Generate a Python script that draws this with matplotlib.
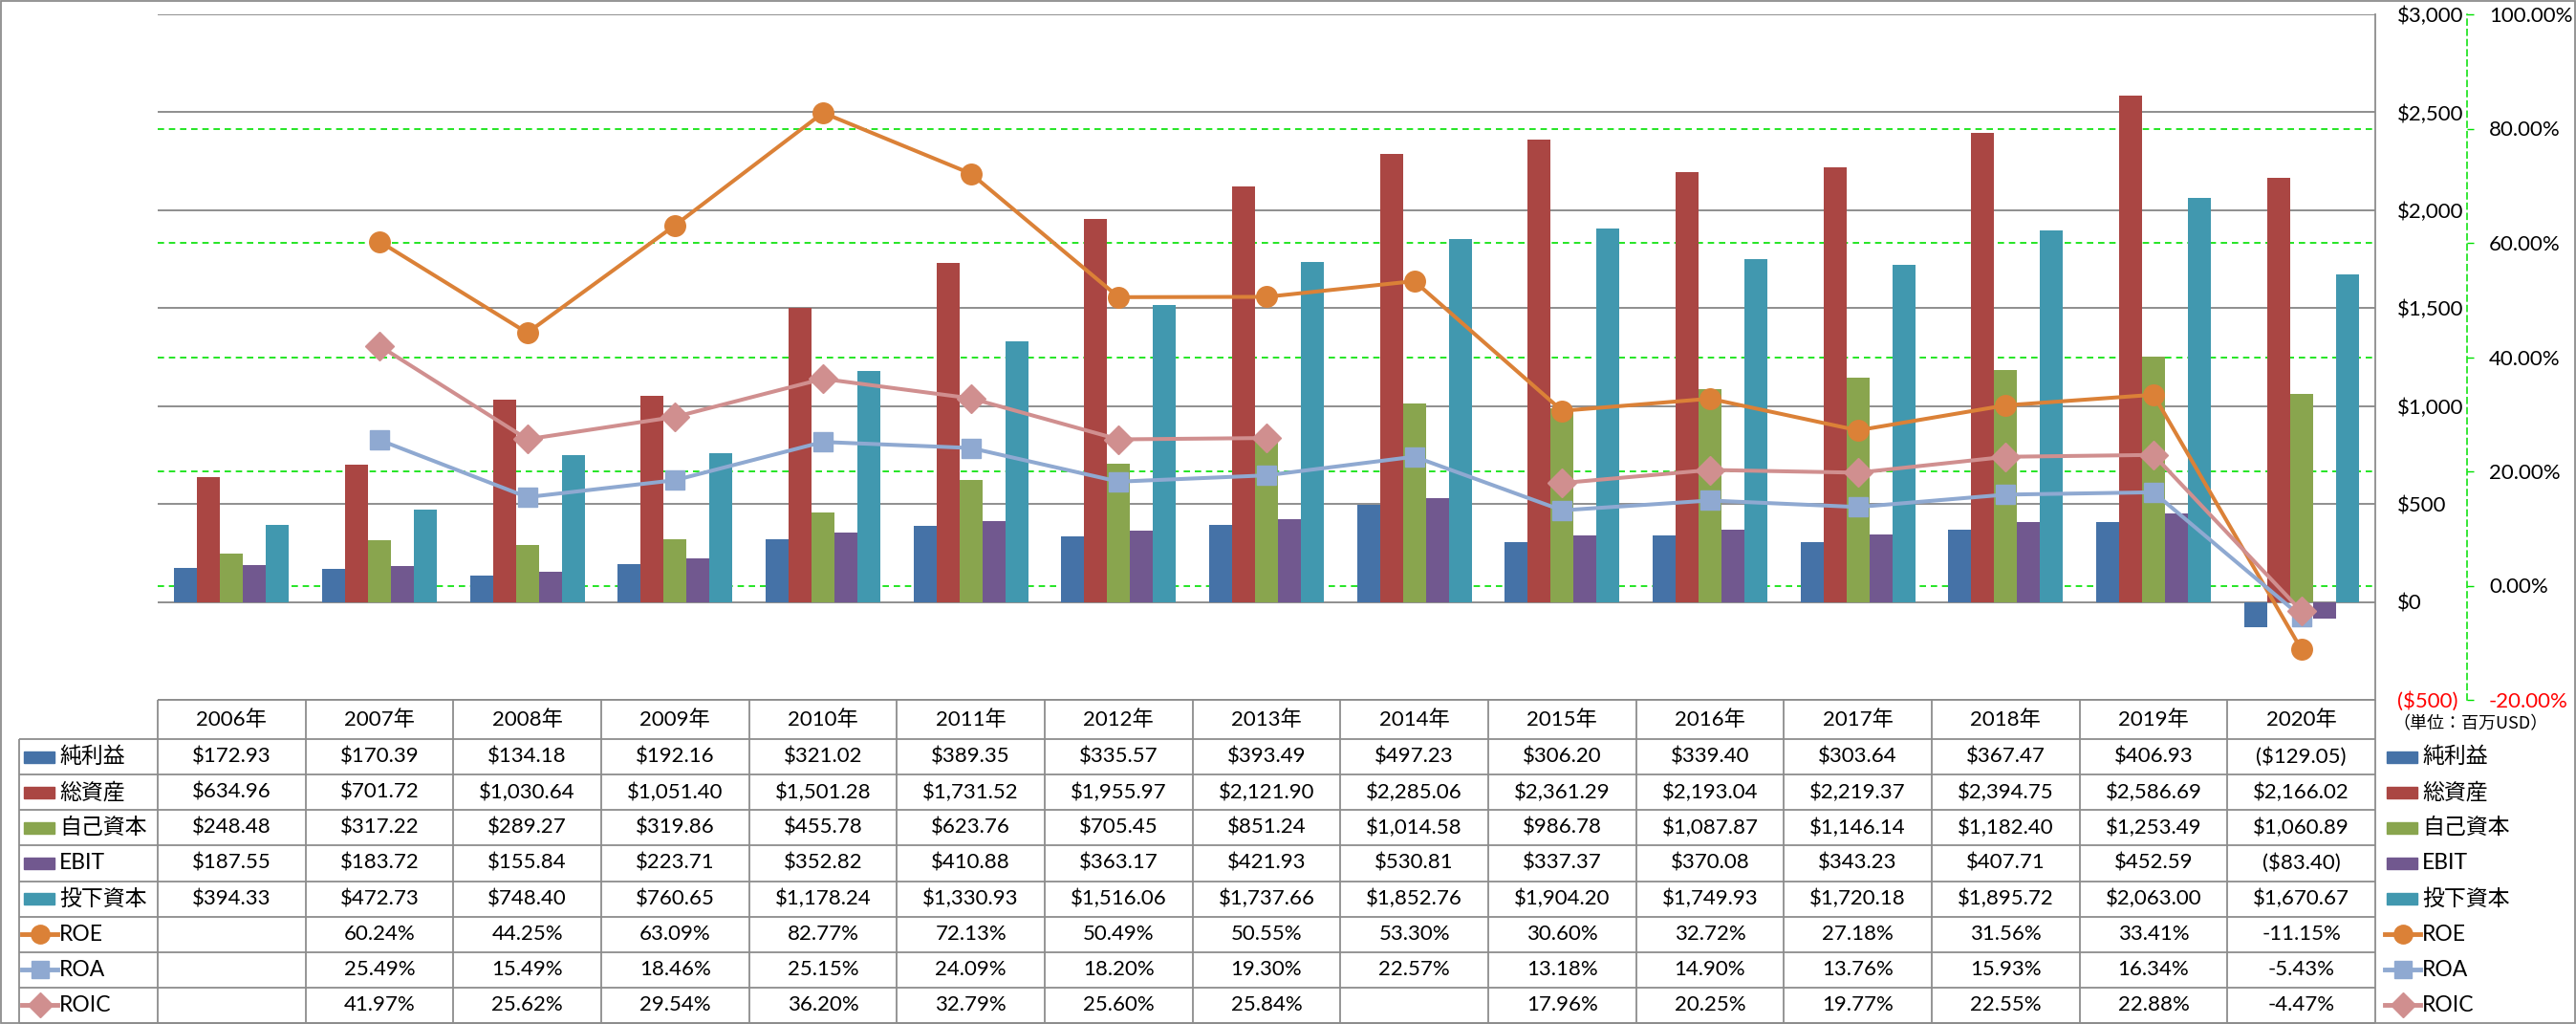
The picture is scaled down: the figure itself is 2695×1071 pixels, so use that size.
import numpy as np
import matplotlib.pyplot as plt
from matplotlib.patches import Rectangle
from matplotlib.transforms import blended_transform_factory

plt.rcParams['font.family'] = ['Lato', 'Noto Sans CJK JP', 'DejaVu Sans']

years = ['2006年', '2007年', '2008年', '2009年', '2010年', '2011年', '2012年', '2013年',
         '2014年', '2015年', '2016年', '2017年', '2018年', '2019年', '2020年']

net_income = [172.93, 170.39, 134.18, 192.16, 321.02, 389.35, 335.57, 393.49,
              497.23, 306.20, 339.40, 303.64, 367.47, 406.93, -129.05]
total_assets = [634.96, 701.72, 1030.64, 1051.40, 1501.28, 1731.52, 1955.97, 2121.90,
                2285.06, 2361.29, 2193.04, 2219.37, 2394.75, 2586.69, 2166.02]
equity = [248.48, 317.22, 289.27, 319.86, 455.78, 623.76, 705.45, 851.24,
          1014.58, 986.78, 1087.87, 1146.14, 1182.40, 1253.49, 1060.89]
ebit = [187.55, 183.72, 155.84, 223.71, 352.82, 410.88, 363.17, 421.93,
        530.81, 337.37, 370.08, 343.23, 407.71, 452.59, -83.40]
invested = [394.33, 472.73, 748.40, 760.65, 1178.24, 1330.93, 1516.06, 1737.66,
            1852.76, 1904.20, 1749.93, 1720.18, 1895.72, 2063.00, 1670.67]

nan = np.nan
roe = [nan, 60.24, 44.25, 63.09, 82.77, 72.13, 50.49, 50.55,
       53.30, 30.60, 32.72, 27.18, 31.56, 33.41, -11.15]
roa = [nan, 25.49, 15.49, 18.46, 25.15, 24.09, 18.20, 19.30,
       22.57, 13.18, 14.90, 13.76, 15.93, 16.34, -5.43]
roic = [nan, 41.97, 25.62, 29.54, 36.20, 32.79, 25.60, 25.84,
        nan, 17.96, 20.25, 19.77, 22.55, 22.88, -4.47]

bar_names = ['純利益', '総資産', '自己資本', 'EBIT', '投下資本']
bar_data = [net_income, total_assets, equity, ebit, invested]
bar_colors = ['#4572A7', '#AA4643', '#89A54E', '#71588F', '#4198AF']

line_names = ['ROE', 'ROA', 'ROIC']
line_data = [roe, roa, roic]
line_colors = ['#DB8137', '#8FA9D1', '#D08F8F']
line_markers = ['o', 's', 'D']
marker_sizes = [15.5, 14, 15]

usd_ticks = list(range(-500, 3001, 500))
pct_ticks = list(range(-20, 101, 20))

# layout in pixels
W, H = 2695, 1071
PL, PR, PT, PB = 165, 2485, 15, 732
TB = 1070
HDR = 41
RH = (TB - PB - HDR) / 8
CW = (PR - PL) / len(years)
GREY = '#8C8C8C'
GREEN = '#00E000'
FS = 16

fig = plt.figure(figsize=(W / 100, H / 100), dpi=100)
ax = fig.add_axes([PL / W, 1 - PB / H, (PR - PL) / W, (PB - PT) / H])
ax2 = ax.twinx()

x = np.arange(len(years))
bw = 24 / CW
for k, (vals, col) in enumerate(zip(bar_data, bar_colors)):
    ax.bar(x + (k - 2) * bw, vals, bw, color=col, zorder=2)

ax.set_xlim(-0.5, len(years) - 0.5)
ax.set_ylim(-500, 3000)
ax.yaxis.tick_right()
ax.set_yticks(usd_ticks)
ax.set_yticklabels(['($500)' if v < 0 else f'${v:,}' for v in usd_ticks])
ax.tick_params(axis='y', length=0, pad=16.5, labelsize=FS)
ax.set_xticks([])
ax.grid(axis='y', color='#868686', lw=1.3, zorder=0)
ax.set_axisbelow(True)
for s in ['left', 'top', 'bottom']:
    ax.spines[s].set_visible(False)
ax.spines['right'].set_color(GREY)
ax.spines['right'].set_linewidth(1.3)

# secondary (percent) axis
ax2.set_ylim(-20, 100)
ax2.set_yticks(pct_ticks)
ax2.set_yticklabels([f'{v:.2f}%' for v in pct_ticks])
ax2.tick_params(axis='y', color=GREEN, length=5, width=1, pad=11.5, labelsize=FS)
for s in ['left', 'top', 'bottom']:
    ax2.spines[s].set_visible(False)
ax2.spines['right'].set_position(('outward', (2581 - PR) * 0.72))
ax2.spines['right'].set_color(GREEN)
ax2.spines['right'].set_linestyle((0, (4, 3)))
ax2.spines['right'].set_linewidth(1.1)

# green dashed percent gridlines behind the bars
tr = blended_transform_factory(ax.transAxes, ax2.transData)
ax.hlines(pct_ticks[1:-1], 0, 1, transform=tr, colors=GREEN,
          linestyles=(0, (4, 3)), lw=1.2, zorder=1)
ax.set_ylim(-500, 3000)

for vals, col, mk, ms in zip(line_data, line_colors, line_markers, marker_sizes):
    ax2.plot(x, vals, color=col, lw=2.9, marker=mk, ms=ms, mec=col, zorder=3)

ax.get_yticklabels()[0].set_color('red')
ax2.get_yticklabels()[0].set_color('red')

# data table
axt = fig.add_axes([PL / W, 1 - TB / H, (PR - PL) / W, (TB - PB) / H])
axt.set_xlim(-0.5, len(years) - 0.5)
axt.set_ylim(TB - PB, 0)
axt.axis('off')


def tx(px):
    return (px - PL) / CW - 0.5


def money(v):
    return f'${v:,.2f}' if v >= 0 else f'(${-v:,.2f})'


def pct(v):
    return '' if np.isnan(v) else f'{v:.2f}%'


axt.hlines(0, -0.5, len(years) - 0.5, colors=GREY, lw=1.3, clip_on=False)
for r in range(9):
    axt.hlines(HDR + r * RH, tx(20), len(years) - 0.5, colors=GREY, lw=1.3, clip_on=False)
axt.vlines(np.arange(len(years) + 1) - 0.5, 0, TB - PB, colors=GREY, lw=1.3, clip_on=False)
axt.vlines(tx(20), HDR, TB - PB, colors=GREY, lw=1.3, clip_on=False)

for i, yr in enumerate(years):
    axt.text(i, HDR / 2, yr, ha='center', va='center', fontsize=FS)

rows = [[money(v) for v in d] for d in bar_data] + [[pct(v) for v in d] for d in line_data]
names = bar_names + line_names
for r, row in enumerate(rows):
    yc = HDR + (r + 0.5) * RH
    for i, s in enumerate(row):
        axt.text(i, yc, s, ha='center', va='center', fontsize=FS)


def legend_key(x0, r):
    yc = HDR + (r + 0.5) * RH
    if r < 5:
        axt.add_patch(Rectangle((tx(x0 + 2), yc - 6), 32 / CW, 12, color=bar_colors[r],
                                clip_on=False))
    else:
        j = r - 5
        axt.plot([tx(x0), tx(x0 + 37)], [yc, yc], color=line_colors[j], lw=3.5,
                 clip_on=False)
        axt.plot([tx(x0 + 18.5)], [yc], marker=line_markers[j], ms=marker_sizes[j] * 0.9,
                 color=line_colors[j], clip_on=False)
    axt.text(tx(x0 + 39), yc, names[r], ha='left', va='center', fontsize=16.5, clip_on=False)


for r in range(len(names)):
    legend_key(23, r)
    legend_key(2495, r)

axt.text(tx(2503), 25, '（単位：百万USD）', ha='left', va='center', fontsize=13,
         family=['Noto Sans CJK JP'], clip_on=False)

fig.add_artist(Rectangle((0.0003, 0.0008), 0.9994, 0.9984, transform=fig.transFigure,
                         fill=False, edgecolor=GREY, lw=1.3))

fig.savefig('out.png', dpi=100)
